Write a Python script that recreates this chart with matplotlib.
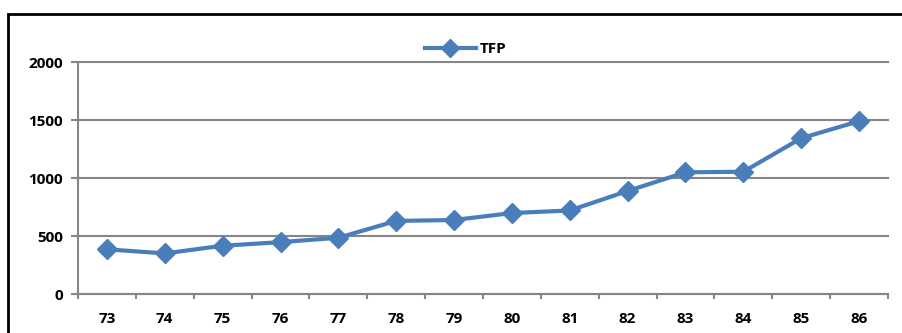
import matplotlib
matplotlib.use("Agg")
from matplotlib import pyplot as plt
from matplotlib.patches import Rectangle
import numpy as np

years = ["73", "74", "75", "76", "77", "78", "79", "80", "81", "82", "83", "84", "85", "86"]
tfp = [385, 350, 416, 447, 485, 630, 638, 698, 720, 888, 1049, 1054, 1343, 1490]
y_ticks = [0, 500, 1000, 1500, 2000]

LINE_BLUE = "#4A7EBB"
GRID_GRAY = "#868686"

plt.rcParams["font.family"] = ["Open Sans", "DejaVu Sans"]
plt.rcParams["font.weight"] = "bold"

fig = plt.figure(figsize=(9.03, 3.33), dpi=100)
ax = fig.add_axes([78 / 903, 39 / 333, 810 / 903, 232 / 333])

x = np.arange(len(years))
ax.plot(x, tfp, color=LINE_BLUE, linewidth=3, marker="D", markersize=10,
        markeredgecolor=LINE_BLUE, label="TFP", zorder=3)

ax.set_xlim(-0.5, len(years) - 0.5)
ax.set_ylim(0, 2000)

# category labels sit between the tick marks
ax.set_xticks(x)
ax.set_xticklabels(years, fontsize=11, fontweight="bold")
ax.set_xticks(np.arange(len(years) + 1) - 0.5, minor=True)
ax.tick_params(axis="x", which="major", length=0, pad=13)
ax.tick_params(axis="x", which="minor", length=3.6, width=1.5, color=GRID_GRAY, direction="out")

ax.set_yticks(y_ticks)
ax.set_yticklabels([str(v) for v in y_ticks], fontsize=11, fontweight="bold")
ax.tick_params(axis="y", length=5, width=1.5, color=GRID_GRAY, direction="out", pad=6)

ax.yaxis.grid(True, color=GRID_GRAY, linewidth=1.5)
for gl in ax.get_ygridlines():
    gl.set_clip_on(False)
ax.set_axisbelow(True)

for side in ["top", "right"]:
    ax.spines[side].set_visible(False)
for side in ["left", "bottom"]:
    ax.spines[side].set_color(GRID_GRAY)
    ax.spines[side].set_linewidth(1.5)

leg = ax.legend(loc="center", bbox_to_anchor=(466 / 903, 1 - 49 / 333),
                bbox_transform=fig.transFigure, frameon=False,
                prop={"size": 11, "weight": "bold"},
                handlelength=3.3, handletextpad=0.3, markerscale=0.9)

# chart area border, running off the right and bottom edges
fig.patches.append(Rectangle((8 / 903, -0.2), 1.0, 1.2 - 14 / 333, fill=False,
                             edgecolor="black", linewidth=2, transform=fig.transFigure,
                             figure=fig))

fig.savefig("out.png", dpi=100)
